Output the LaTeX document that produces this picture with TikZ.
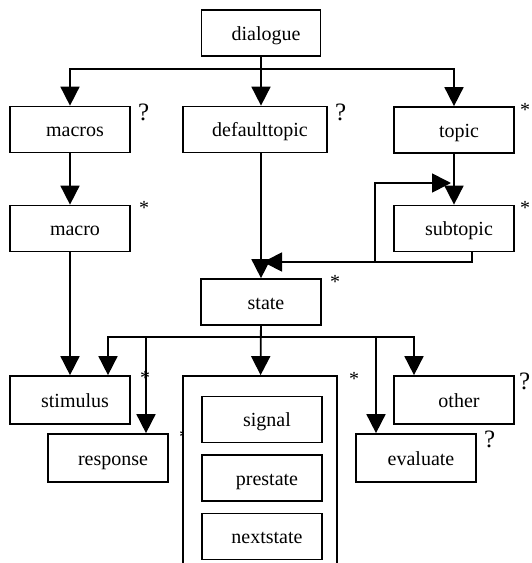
\documentclass[tikz,border=0pt]{standalone}
\usepackage{fontspec}
\setmainfont{Liberation Serif}
\usetikzlibrary{arrows.meta, calc, positioning}
\newcommand{\boxfont}{\fontsize{20}{22}\selectfont}
\tikzset{
    box/.style={draw, fill=white, line width=1.7pt, minimum width=120pt, minimum height=46pt, inner sep=0pt, font=\boxfont, text height=16pt, text depth=2pt, execute at begin node={\hspace*{10pt}}},
    tagOpt/.style={anchor=north west, inner sep=0pt, font=\fontsize{25}{25}\selectfont, xshift=7pt, yshift=2pt},
    tagStar/.style={anchor=north west, inner sep=0pt, font=\fontsize{20}{20}\selectfont, xshift=8pt, yshift=3pt},
    arr/.style={-{Triangle[length=19pt, width=19pt]}, line width=1.7pt},
}
\newcommand{\busLink}[3]{
    \draw[arr] (#1) -- (#2) -| (#3);
}
\begin{document}
\begin{tikzpicture}[x=1pt, y=-1pt]
        \useasboundingbox (0,0) rectangle (531,563);

        % top part
        \node[box, minimum width=119pt] (dialogue) at (261,33) {dialogue};
        \node[box, label={[tagOpt]north east:?}] (macros) at (70,129.5) {macros};
        \node[box, minimum width=144pt, label={[tagOpt]north east:?}] (defaulttopic) at (255,129.5) {defaulttopic};
        \node[box, label={[tagStar, xshift=-3pt]north east:*}] (topic) at (454,130) {topic};
        \node[box, label={[tagStar]north east:*}] (macro) at (70,228.5) {macro};
        \node[box, label={[tagStar, xshift=-3pt]north east:*}] (subtopic) at (454,228.5) {subtopic};
        \node[box, label={[tagStar]north east:*}] (state) at (261,302) {state};

        % bottom part
        \node[box, minimum height=48pt, label={[tagStar, yshift=1pt, xshift=1pt]north east:*}] (stimulus) at (70,400) {stimulus};
        \node[box, minimum height=48pt, label={[tagStar, xshift=2pt]north east:*}] (response) at (108,458) {response};
        \node[box, minimum width=154pt, minimum height=224pt, label={[tagStar, xshift=3pt]north east:*}] (attrs) at (260,488) {};
        \node[box] (signal) at (262,419.5) {signal};
        \node[box] (prestate) at (262,478) {prestate};
        \node[box] (nextstate) at (262,536.5) {nextstate};
        \node[box, minimum height=48pt, label={[tagOpt, xshift=-3pt]north east:?}] (other) at (454,400) {other};
        \node[box, minimum height=48pt, label={[tagOpt]north east:?}] (evaluate) at (416,458) {evaluate};

        \coordinate (topbus) at (261,69);
        \coordinate (midbus) at (261,337);
        \coordinate (merge) at (263,262);
        \coordinate (fork) at (375,262);
        \coordinate (recur) at (451,183);

        \busLink{dialogue}{topbus}{macros}
        \draw[arr] (dialogue) -- (dialogue |- defaulttopic.north);
        \busLink{dialogue}{topbus}{topic}
        \draw[arr] (macros) -- (macro);
        \draw[arr] (macro) -- (stimulus);
        \draw[arr] (topic) -- (subtopic);
        \draw[arr] (defaulttopic.south -| state) -- (state);
        \draw[arr] ([xshift=18pt]subtopic.south) |- (merge);
        \draw[arr] (fork) |- (recur);

        \busLink{state}{midbus}{[xshift=38pt]stimulus.north}
        \busLink{state}{midbus}{[xshift=38pt]response.north}
        \draw[arr] (state) -- (attrs);
        \busLink{state}{midbus}{[xshift=-40pt]evaluate.north}
        \busLink{state}{midbus}{[xshift=-40pt]other.north}

    \end{tikzpicture}
\end{document}
